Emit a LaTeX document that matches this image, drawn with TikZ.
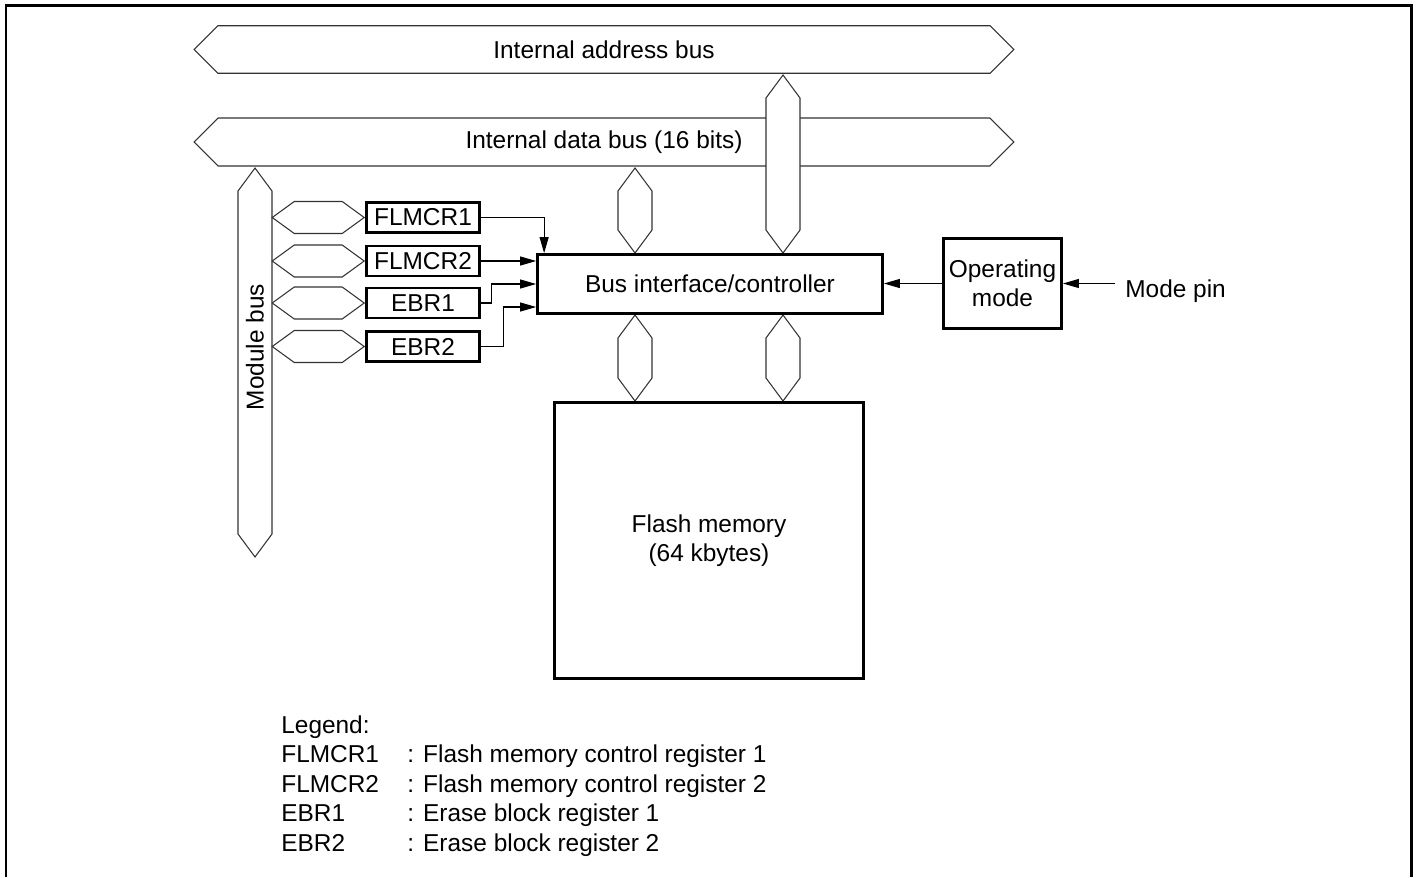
\documentclass[tikz,border=0pt]{standalone}
\usepackage{fontspec}
\setmainfont{Liberation Sans}
\usepackage{tikz}
\usetikzlibrary{shapes.arrows, arrows.meta, positioning, calc}
\tikzstyle{arrow} = [line width=0.6pt, -{Triangle[length=0.32cm, width=0.18cm]}]

\begin{document}
\begin{tikzpicture}[
      x=0.02cm, y=-0.02cm,
      font=\fontsize{13.9}{16.5}\selectfont,
      hbus/.style={double arrow, double arrow head extend=0pt, double arrow tip angle=90, draw=black!80, line width=0.6pt, fill=white, inner sep=0pt, minimum height=16.4cm, minimum width=0.95cm},
      vbus/.style={double arrow, double arrow head extend=0pt, double arrow tip angle=73, rotate=90, draw=black!80, line width=0.6pt, fill=white, inner sep=0pt, minimum width=0.68cm},
      regbus/.style={double arrow, double arrow head extend=0pt, double arrow tip angle=72, draw=black!80, line width=0.6pt, fill=white, inner sep=0pt, minimum height=1.84cm, minimum width=0.64cm},
      reg/.style={rectangle, draw=black, line width=1.6pt, minimum width=2.26cm, minimum height=0.6cm, inner sep=0pt},
      block/.style={rectangle, draw=black, line width=1.6pt, align=center, inner sep=0pt},
      legend/.style={anchor=base west, inner sep=0pt},
      frame/.style={line width=1.5pt},
    ]
    \useasboundingbox (0,0) rectangle (1417,877);

    % Frame
    \draw[frame] (6,877) -- (6,5.5) -- (1411.5,5.5) -- (1411.5,877);

    % Buses
    \node[hbus] (abus) at (604,49.5) {Internal address bus};
    \node[hbus, minimum width=0.96cm] (dbus) at (604,142) {Internal data bus (16 bits)};
    \node[vbus, minimum height=7.78cm] (mbus) at (255,362.5) {};
    \node[rotate=90] (mbuslabel) at (255,347) {Module bus};
    \node[vbus, minimum height=1.7cm] (dlink) at (635,210.5) {};
    \node[vbus, minimum height=3.56cm] (alink) at (783,164) {};
    \node[vbus, minimum height=1.72cm] (flink1) at (635,358) {};
    \node[vbus, minimum height=1.72cm] (flink2) at (783,358) {};

    % Registers
    \node[reg] (flmcr1) at (423,217.5) {FLMCR1};
    \node[reg] (flmcr2) at (423,261) {FLMCR2};
    \node[reg] (ebr1) at (423,303) {EBR1};
    \node[reg] (ebr2) at (423,346.5) {EBR2};
    \node[regbus, left=0pt of flmcr1] (hf1) {};
    \node[regbus, left=0pt of flmcr2] (hf2) {};
    \node[regbus, left=0pt of ebr1] (he1) {};
    \node[regbus, left=0pt of ebr2] (he2) {};

    % Blocks
    \node[block, minimum width=6.9cm, minimum height=1.18cm] (biu) at (710,284) {Bus interface/controller};
    \node[block, minimum width=2.36cm, minimum height=1.8cm] (opmode) at (1002.5,283.5) {Operating\\mode};
    \node[block, minimum width=6.18cm, minimum height=5.52cm] (flash) at (709,540.5) {Flash memory\\(64 kbytes)};
    \node[anchor=base west, inner xsep=0.2cm, inner ysep=0pt] (modepin) at (1115,297) {Mode pin};

    % Edges
    \draw[arrow] (flmcr1.east) -| ($(biu.north west)+(8,0)$);
    \draw[arrow] (flmcr2.east) -- (flmcr2.east -| biu.west);
    \draw[arrow] (ebr1.east) -- ++(11,0) |- (biu.west);
    \draw[arrow] (ebr2.east) -- ++(23,0) |- ($(biu.west)+(0,23)$);
    \draw[arrow] (opmode.west) -- (opmode.west -| biu.east);
    \draw[arrow] (modepin.west |- opmode.east) -- (opmode.east);

    % Legend
    \node[legend] (lghead) at (281,733) {Legend:};
    \node[legend] (lgf1) at (281,762.5) {FLMCR1};
    \node[legend] (lgf1t) at (407,762.5) {: Flash memory control register 1};
    \node[legend] (lgf2) at (281,792) {FLMCR2};
    \node[legend] (lgf2t) at (407,792) {: Flash memory control register 2};
    \node[legend] (lge1) at (281,821.5) {EBR1};
    \node[legend] (lge1t) at (407,821.5) {: Erase block register 1};
    \node[legend] (lge2) at (281,851) {EBR2};
    \node[legend] (lge2t) at (407,851) {: Erase block register 2};

  \end{tikzpicture}
\end{document}
